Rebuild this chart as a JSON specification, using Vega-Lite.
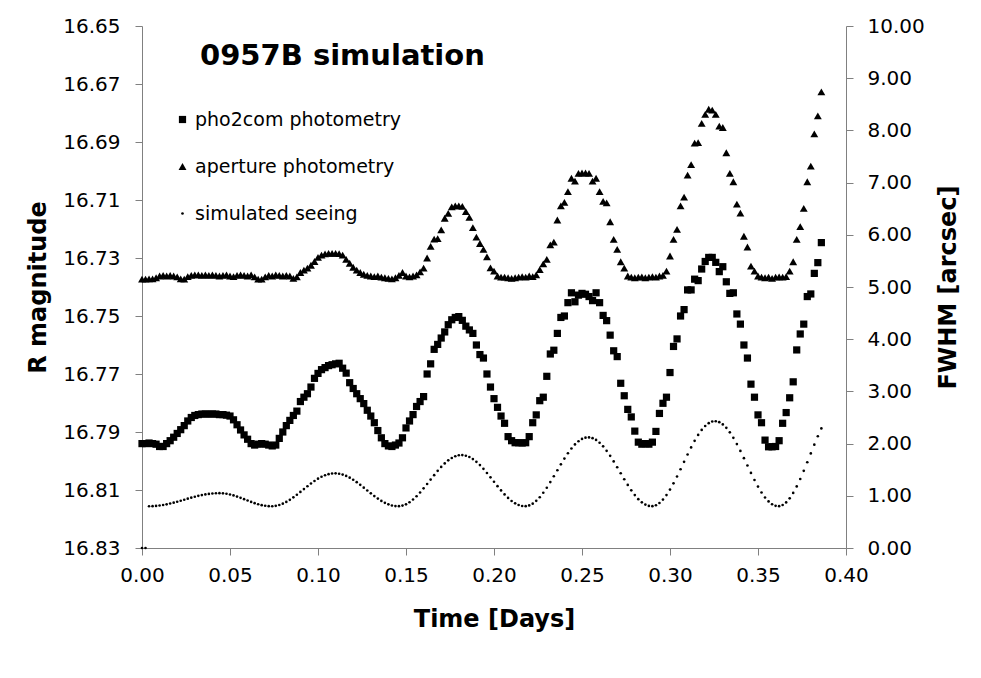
{
  "$schema": "https://vega.github.io/schema/vega-lite/v6.json",
  "width": 704,
  "height": 522,
  "autosize": {"type": "none"},
  "padding": {"left": 142, "top": 26, "right": 135, "bottom": 130},
  "background": "white",
  "title": {
    "text": "0957B simulation",
    "anchor": "start",
    "frame": "group",
    "font": "DejaVu Sans",
    "fontSize": 29,
    "fontWeight": "bold",
    "color": "black",
    "baseline": "alphabetic",
    "offset": 0,
    "dx": 58,
    "dy": 78
  },
  "data": {
    "values": [
      {"t":0.000,"p":16.7940,"a":16.7373,"s":0},
      {"t":0.002,"p":16.7940,"a":16.7373,"s":0},
      {"t":0.004,"p":16.7938,"a":16.7372,"s":0.800},
      {"t":0.006,"p":16.7940,"a":16.7372,"s":0.802},
      {"t":0.008,"p":16.7942,"a":16.7368,"s":0.806},
      {"t":0.010,"p":16.7950,"a":16.7362,"s":0.814},
      {"t":0.012,"p":16.7950,"a":16.7360,"s":0.824},
      {"t":0.014,"p":16.7940,"a":16.7362,"s":0.837},
      {"t":0.016,"p":16.7930,"a":16.7360,"s":0.852},
      {"t":0.018,"p":16.7918,"a":16.7362,"s":0.868},
      {"t":0.020,"p":16.7905,"a":16.7365,"s":0.886},
      {"t":0.022,"p":16.7892,"a":16.7372,"s":0.906},
      {"t":0.024,"p":16.7878,"a":16.7373,"s":0.925},
      {"t":0.026,"p":16.7862,"a":16.7364,"s":0.945},
      {"t":0.028,"p":16.7850,"a":16.7360,"s":0.964},
      {"t":0.030,"p":16.7843,"a":16.7358,"s":0.982},
      {"t":0.032,"p":16.7840,"a":16.7358,"s":0.999},
      {"t":0.034,"p":16.7838,"a":16.7360,"s":1.013},
      {"t":0.036,"p":16.7838,"a":16.7358,"s":1.026},
      {"t":0.038,"p":16.7838,"a":16.7360,"s":1.036},
      {"t":0.040,"p":16.7838,"a":16.7358,"s":1.044},
      {"t":0.042,"p":16.7838,"a":16.7360,"s":1.049},
      {"t":0.044,"p":16.7840,"a":16.7362,"s":1.050},
      {"t":0.046,"p":16.7840,"a":16.7360,"s":1.047},
      {"t":0.048,"p":16.7842,"a":16.7358,"s":1.039},
      {"t":0.050,"p":16.7845,"a":16.7362,"s":1.025},
      {"t":0.052,"p":16.7858,"a":16.7364,"s":1.007},
      {"t":0.054,"p":16.7875,"a":16.7360,"s":0.985},
      {"t":0.056,"p":16.7893,"a":16.7358,"s":0.961},
      {"t":0.058,"p":16.7910,"a":16.7360,"s":0.935},
      {"t":0.060,"p":16.7925,"a":16.7362,"s":0.909},
      {"t":0.062,"p":16.7940,"a":16.7358,"s":0.883},
      {"t":0.064,"p":16.7945,"a":16.7365,"s":0.859},
      {"t":0.066,"p":16.7942,"a":16.7373,"s":0.838},
      {"t":0.068,"p":16.7940,"a":16.7373,"s":0.821},
      {"t":0.070,"p":16.7942,"a":16.7365,"s":0.809},
      {"t":0.072,"p":16.7945,"a":16.7360,"s":0.802},
      {"t":0.074,"p":16.7948,"a":16.7362,"s":0.800},
      {"t":0.076,"p":16.7945,"a":16.7358,"s":0.808},
      {"t":0.078,"p":16.7922,"a":16.7360,"s":0.824},
      {"t":0.080,"p":16.7900,"a":16.7362,"s":0.849},
      {"t":0.082,"p":16.7878,"a":16.7360,"s":0.883},
      {"t":0.084,"p":16.7860,"a":16.7362,"s":0.923},
      {"t":0.086,"p":16.7843,"a":16.7370,"s":0.970},
      {"t":0.088,"p":16.7828,"a":16.7365,"s":1.020},
      {"t":0.090,"p":16.7795,"a":16.7350,"s":1.074},
      {"t":0.092,"p":16.7780,"a":16.7342,"s":1.129},
      {"t":0.094,"p":16.7768,"a":16.7335,"s":1.183},
      {"t":0.096,"p":16.7745,"a":16.7325,"s":1.236},
      {"t":0.098,"p":16.7715,"a":16.7312,"s":1.284},
      {"t":0.100,"p":16.7698,"a":16.7298,"s":1.328},
      {"t":0.102,"p":16.7685,"a":16.7290,"s":1.365},
      {"t":0.104,"p":16.7678,"a":16.7286,"s":1.394},
      {"t":0.106,"p":16.7671,"a":16.7284,"s":1.415},
      {"t":0.108,"p":16.7668,"a":16.7284,"s":1.427},
      {"t":0.110,"p":16.7665,"a":16.7284,"s":1.430},
      {"t":0.112,"p":16.7663,"a":16.7285,"s":1.423},
      {"t":0.114,"p":16.7680,"a":16.7290,"s":1.406},
      {"t":0.116,"p":16.7697,"a":16.7305,"s":1.381},
      {"t":0.118,"p":16.7730,"a":16.7318,"s":1.347},
      {"t":0.120,"p":16.7750,"a":16.7332,"s":1.307},
      {"t":0.122,"p":16.7768,"a":16.7342,"s":1.261},
      {"t":0.124,"p":16.7785,"a":16.7350,"s":1.210},
      {"t":0.126,"p":16.7802,"a":16.7356,"s":1.156},
      {"t":0.128,"p":16.7825,"a":16.7360,"s":1.101},
      {"t":0.130,"p":16.7845,"a":16.7362,"s":1.047},
      {"t":0.132,"p":16.7868,"a":16.7364,"s":0.995},
      {"t":0.134,"p":16.7895,"a":16.7362,"s":0.946},
      {"t":0.136,"p":16.7920,"a":16.7366,"s":0.902},
      {"t":0.138,"p":16.7940,"a":16.7368,"s":0.865},
      {"t":0.140,"p":16.7948,"a":16.7370,"s":0.836},
      {"t":0.142,"p":16.7950,"a":16.7372,"s":0.815},
      {"t":0.144,"p":16.7945,"a":16.7368,"s":0.803},
      {"t":0.146,"p":16.7938,"a":16.7360,"s":0.801},
      {"t":0.148,"p":16.7920,"a":16.7350,"s":0.812},
      {"t":0.150,"p":16.7886,"a":16.7362,"s":0.837},
      {"t":0.152,"p":16.7862,"a":16.7365,"s":0.877},
      {"t":0.154,"p":16.7840,"a":16.7362,"s":0.929},
      {"t":0.156,"p":16.7812,"a":16.7358,"s":0.992},
      {"t":0.158,"p":16.7795,"a":16.7348,"s":1.064},
      {"t":0.160,"p":16.7778,"a":16.7335,"s":1.143},
      {"t":0.162,"p":16.7700,"a":16.7300,"s":1.226},
      {"t":0.164,"p":16.7665,"a":16.7260,"s":1.311},
      {"t":0.166,"p":16.7615,"a":16.7235,"s":1.396},
      {"t":0.168,"p":16.7598,"a":16.7233,"s":1.478},
      {"t":0.170,"p":16.7576,"a":16.7203,"s":1.553},
      {"t":0.172,"p":16.7555,"a":16.7163,"s":1.621},
      {"t":0.174,"p":16.7530,"a":16.7146,"s":1.679},
      {"t":0.176,"p":16.7513,"a":16.7124,"s":1.725},
      {"t":0.178,"p":16.7505,"a":16.7120,"s":1.757},
      {"t":0.180,"p":16.7502,"a":16.7120,"s":1.776},
      {"t":0.182,"p":16.7515,"a":16.7122,"s":1.780},
      {"t":0.184,"p":16.7535,"a":16.7140,"s":1.768},
      {"t":0.186,"p":16.7548,"a":16.7160,"s":1.743},
      {"t":0.188,"p":16.7560,"a":16.7195,"s":1.703},
      {"t":0.190,"p":16.7600,"a":16.7228,"s":1.651},
      {"t":0.192,"p":16.7633,"a":16.7250,"s":1.588},
      {"t":0.194,"p":16.7645,"a":16.7270,"s":1.516},
      {"t":0.196,"p":16.7700,"a":16.7296,"s":1.437},
      {"t":0.198,"p":16.7745,"a":16.7334,"s":1.354},
      {"t":0.200,"p":16.7785,"a":16.7345,"s":1.269},
      {"t":0.202,"p":16.7815,"a":16.7362,"s":1.184},
      {"t":0.204,"p":16.7845,"a":16.7366,"s":1.103},
      {"t":0.206,"p":16.7870,"a":16.7366,"s":1.027},
      {"t":0.208,"p":16.7916,"a":16.7368,"s":0.959},
      {"t":0.210,"p":16.7930,"a":16.7370,"s":0.901},
      {"t":0.212,"p":16.7937,"a":16.7368,"s":0.855},
      {"t":0.214,"p":16.7937,"a":16.7366,"s":0.823},
      {"t":0.216,"p":16.7938,"a":16.7364,"s":0.804},
      {"t":0.218,"p":16.7937,"a":16.7366,"s":0.801},
      {"t":0.220,"p":16.7916,"a":16.7362,"s":0.816},
      {"t":0.222,"p":16.7868,"a":16.7364,"s":0.850},
      {"t":0.224,"p":16.7841,"a":16.7358,"s":0.903},
      {"t":0.226,"p":16.7792,"a":16.7340,"s":0.973},
      {"t":0.228,"p":16.7780,"a":16.7320,"s":1.058},
      {"t":0.230,"p":16.7708,"a":16.7305,"s":1.155},
      {"t":0.232,"p":16.7631,"a":16.7255,"s":1.262},
      {"t":0.234,"p":16.7618,"a":16.7245,"s":1.374},
      {"t":0.236,"p":16.7560,"a":16.7169,"s":1.489},
      {"t":0.238,"p":16.7505,"a":16.7120,"s":1.603},
      {"t":0.240,"p":16.7500,"a":16.7108,"s":1.713},
      {"t":0.242,"p":16.7454,"a":16.7071,"s":1.815},
      {"t":0.244,"p":16.7420,"a":16.7025,"s":1.906},
      {"t":0.246,"p":16.7451,"a":16.7035,"s":1.984},
      {"t":0.248,"p":16.7428,"a":16.7008,"s":2.045},
      {"t":0.250,"p":16.7422,"a":16.7007,"s":2.090},
      {"t":0.252,"p":16.7425,"a":16.7007,"s":2.114},
      {"t":0.254,"p":16.7433,"a":16.7008,"s":2.119},
      {"t":0.256,"p":16.7447,"a":16.7035,"s":2.104},
      {"t":0.258,"p":16.7420,"a":16.7025,"s":2.070},
      {"t":0.260,"p":16.7454,"a":16.7071,"s":2.017},
      {"t":0.262,"p":16.7498,"a":16.7105,"s":1.947},
      {"t":0.264,"p":16.7516,"a":16.7110,"s":1.862},
      {"t":0.266,"p":16.7566,"a":16.7175,"s":1.765},
      {"t":0.268,"p":16.7620,"a":16.7236,"s":1.659},
      {"t":0.270,"p":16.7640,"a":16.7270,"s":1.546},
      {"t":0.272,"p":16.7732,"a":16.7313,"s":1.431},
      {"t":0.274,"p":16.7775,"a":16.7335,"s":1.317},
      {"t":0.276,"p":16.7822,"a":16.7362,"s":1.208},
      {"t":0.278,"p":16.7848,"a":16.7366,"s":1.105},
      {"t":0.280,"p":16.7897,"a":16.7368,"s":1.014},
      {"t":0.282,"p":16.7935,"a":16.7366,"s":0.936},
      {"t":0.284,"p":16.7942,"a":16.7365,"s":0.875},
      {"t":0.286,"p":16.7940,"a":16.7368,"s":0.831},
      {"t":0.288,"p":16.7942,"a":16.7366,"s":0.806},
      {"t":0.290,"p":16.7935,"a":16.7364,"s":0.801},
      {"t":0.292,"p":16.7898,"a":16.7366,"s":0.819},
      {"t":0.294,"p":16.7836,"a":16.7362,"s":0.862},
      {"t":0.296,"p":16.7801,"a":16.7360,"s":0.928},
      {"t":0.298,"p":16.7780,"a":16.7345,"s":1.014},
      {"t":0.300,"p":16.7695,"a":16.7293,"s":1.119},
      {"t":0.302,"p":16.7605,"a":16.7236,"s":1.239},
      {"t":0.304,"p":16.7579,"a":16.7201,"s":1.370},
      {"t":0.306,"p":16.7500,"a":16.7120,"s":1.509},
      {"t":0.308,"p":16.7478,"a":16.7090,"s":1.651},
      {"t":0.310,"p":16.7410,"a":16.7014,"s":1.791},
      {"t":0.312,"p":16.7410,"a":16.6978,"s":1.927},
      {"t":0.314,"p":16.7373,"a":16.6904,"s":2.053},
      {"t":0.316,"p":16.7378,"a":16.6902,"s":2.166},
      {"t":0.318,"p":16.7338,"a":16.6836,"s":2.262},
      {"t":0.320,"p":16.7312,"a":16.6805,"s":2.338},
      {"t":0.322,"p":16.7298,"a":16.6787,"s":2.392},
      {"t":0.324,"p":16.7298,"a":16.6790,"s":2.423},
      {"t":0.326,"p":16.7315,"a":16.6805,"s":2.429},
      {"t":0.328,"p":16.7347,"a":16.6845,"s":2.411},
      {"t":0.330,"p":16.7330,"a":16.6850,"s":2.368},
      {"t":0.332,"p":16.7382,"a":16.6937,"s":2.302},
      {"t":0.334,"p":16.7422,"a":16.7008,"s":2.216},
      {"t":0.336,"p":16.7420,"a":16.7037,"s":2.111},
      {"t":0.338,"p":16.7493,"a":16.7114,"s":1.991},
      {"t":0.340,"p":16.7528,"a":16.7145,"s":1.860},
      {"t":0.342,"p":16.7600,"a":16.7225,"s":1.721},
      {"t":0.344,"p":16.7645,"a":16.7262,"s":1.580},
      {"t":0.346,"p":16.7735,"a":16.7328,"s":1.439},
      {"t":0.348,"p":16.7780,"a":16.7345,"s":1.303},
      {"t":0.350,"p":16.7841,"a":16.7362,"s":1.177},
      {"t":0.352,"p":16.7868,"a":16.7366,"s":1.064},
      {"t":0.354,"p":16.7928,"a":16.7368,"s":0.968},
      {"t":0.356,"p":16.7951,"a":16.7366,"s":0.892},
      {"t":0.358,"p":16.7951,"a":16.7370,"s":0.838},
      {"t":0.360,"p":16.7950,"a":16.7366,"s":0.807},
      {"t":0.362,"p":16.7930,"a":16.7365,"s":0.801},
      {"t":0.364,"p":16.7870,"a":16.7366,"s":0.823},
      {"t":0.366,"p":16.7833,"a":16.7364,"s":0.874},
      {"t":0.368,"p":16.7782,"a":16.7345,"s":0.952},
      {"t":0.370,"p":16.7727,"a":16.7313,"s":1.055},
      {"t":0.372,"p":16.7617,"a":16.7236,"s":1.180},
      {"t":0.374,"p":16.7562,"a":16.7192,"s":1.322},
      {"t":0.376,"p":16.7528,"a":16.7129,"s":1.478},
      {"t":0.378,"p":16.7433,"a":16.7037,"s":1.643},
      {"t":0.380,"p":16.7424,"a":16.6983,"s":1.812},
      {"t":0.382,"p":16.7353,"a":16.6872,"s":1.980},
      {"t":0.384,"p":16.7316,"a":16.6810,"s":2.141},
      {"t":0.386,"p":16.7247,"a":16.6727,"s":2.291}
    ]
  },
  "layer": [
    {
      "transform": [{"fold": ["p", "a"], "as": ["series", "value"]}],
      "mark": {"type": "point", "filled": true, "color": "black", "opacity": 1},
      "encoding": {
        "x": {
          "field": "t",
          "type": "quantitative",
          "scale": {"domain": [0, 0.4], "nice": false, "zero": false, "padding": 0},
          "axis": {
            "title": "Time [Days]",
            "values": [0, 0.05, 0.1, 0.15, 0.2, 0.25, 0.3, 0.35, 0.4],
            "format": ".2f",
            "labelFlush": false,
            "labelPadding": 10,
            "titlePadding": 22
          }
        },
        "y": {
          "field": "value",
          "type": "quantitative",
          "scale": {"domain": [16.65, 16.83], "reverse": true, "nice": false, "zero": false},
          "axis": {
            "title": "R magnitude",
            "values": [16.65, 16.67, 16.69, 16.71, 16.73, 16.75, 16.77, 16.79, 16.81, 16.83],
            "format": ".2f",
            "labelPadding": 15,
            "titlePadding": 12
          }
        },
        "shape": {
          "field": "series",
          "type": "nominal",
          "scale": {"domain": ["p", "a", "s"], "range": ["square", "triangle-up", "circle"]},
          "legend": {
            "title": null,
            "orient": "none",
            "legendX": 31,
            "legendY": 84,
            "padding": 0,
            "rowPadding": 27,
            "labelOffset": 3,
            "labelLimit": 400,
            "labelFont": "DejaVu Sans",
            "labelFontSize": 19,
            "labelColor": "black",
            "symbolFillColor": "black",
            "symbolStrokeWidth": 0,
            "labelExpr": "datum.label == 'p' ? 'pho2com photometry' : datum.label == 'a' ? 'aperture photometry' : 'simulated seeing'"
          }
        },
        "size": {
          "field": "series",
          "type": "nominal",
          "scale": {"type": "ordinal", "domain": ["p", "a", "s"], "range": [52, 62, 7]},
          "legend": {
            "title": null,
            "orient": "none",
            "legendX": 31,
            "legendY": 84,
            "padding": 0,
            "rowPadding": 27,
            "labelOffset": 3,
            "labelLimit": 400,
            "labelFont": "DejaVu Sans",
            "labelFontSize": 19,
            "labelColor": "black",
            "symbolFillColor": "black",
            "symbolStrokeWidth": 0,
            "labelExpr": "datum.label == 'p' ? 'pho2com photometry' : datum.label == 'a' ? 'aperture photometry' : 'simulated seeing'"
          }
        }
      }
    },
    {
      "transform": [{"fold": ["s"], "as": ["series", "value"]}],
      "mark": {"type": "point", "filled": true, "color": "black", "opacity": 1},
      "encoding": {
        "x": {"field": "t", "type": "quantitative"},
        "y": {
          "field": "value",
          "type": "quantitative",
          "scale": {"domain": [0, 10], "nice": false, "zero": false},
          "axis": {
            "orient": "right",
            "title": "FWHM [arcsec]",
            "values": [0, 1, 2, 3, 4, 5, 6, 7, 8, 9, 10],
            "format": ".2f",
            "labelPadding": 14,
            "titlePadding": 12,
            "titleAngle": 270,
            "titleBaseline": "top"
          }
        },
        "shape": {
          "field": "series",
          "type": "nominal",
          "scale": {"domain": ["p", "a", "s"], "range": ["square", "triangle-up", "circle"]}
        },
        "size": {
          "field": "series",
          "type": "nominal",
          "scale": {"type": "ordinal", "domain": ["p", "a", "s"], "range": [52, 62, 7]}
        }
      }
    }
  ],
  "resolve": {"scale": {"y": "independent"}},
  "config": {
    "view": {"stroke": null},
    "axis": {
      "grid": false,
      "domainColor": "#808080",
      "domainWidth": 1,
      "tickColor": "#808080",
      "tickWidth": 1,
      "tickSize": 7,
      "labelFont": "DejaVu Sans",
      "labelFontSize": 20,
      "labelColor": "black",
      "titleFont": "DejaVu Sans",
      "titleFontSize": 24,
      "titleFontWeight": "bold",
      "titleColor": "black"
    }
  }
}
